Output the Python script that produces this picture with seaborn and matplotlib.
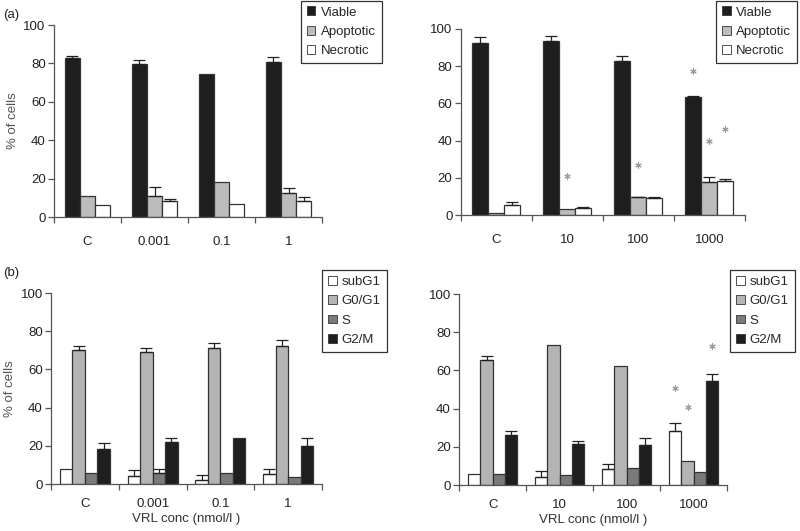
import numpy as np
import pandas as pd
import matplotlib.pyplot as plt
import seaborn as sns
from matplotlib.patches import Patch

# --- datos ---
conc_izq = ["C", "0.001", "0.1", "1"]
conc_der = ["C", "10", "100", "1000"]

estados = ["Viable", "Apoptotic", "Necrotic"]
fases = ["subG1", "G0/G1", "S", "G2/M"]

# (a) izquierda: viabilidad
viable_izq = [83, 79.5, 74.7, 80.7]
viable_izq_err = [1, 2.5, 0, 2.5]
apopt_izq = [11, 11, 18, 12.7]
apopt_izq_err = [0, 4.8, 0, 2.2]
necro_izq = [6, 8.3, 7, 8.5]
necro_izq_err = [0, 1, 0, 2]

# (a) derecha
viable_der = [92.3, 93.5, 82.8, 63.4]
viable_der_err = [3.4, 3, 2.9, 0.4]
apopt_der = [1.3, 3, 9.5, 17.6]
apopt_der_err = [0, 0, 0.4, 3]
necro_der = [5.4, 3.6, 9, 18.5]
necro_der_err = [1.4, 0.5, 0.9, 1]

# (b) izquierda: ciclo celular
subg1_izq = [7.9, 4.2, 2.3, 5.4]
subg1_izq_err = [0, 3, 2.4, 2.5]
g0g1_izq = [70.2, 68.9, 71.4, 72.1]
g0g1_izq_err = [2.2, 2.1, 2.6, 3.1]
s_izq = [5.6, 5.6, 5.6, 3.5]
s_izq_err = [0, 2.3, 0, 0]
g2m_izq = [18.3, 22.2, 23.9, 20.1]
g2m_izq_err = [3.3, 2.1, 0, 3.8]

# (b) derecha
subg1_der = [5.6, 4.2, 8.2, 28.3]
subg1_der_err = [0, 3.1, 2.6, 4]
g0g1_der = [65.6, 73.3, 62.1, 12.4]
g0g1_der_err = [2.1, 0, 0, 0]
s_der = [5.6, 5.1, 8.9, 7]
s_der_err = [0, 0, 0, 0]
g2m_der = [26.2, 21.7, 21.2, 54.2]
g2m_der_err = [1.9, 1.4, 3.6, 3.8]

# asteriscos: (grupo, serie, altura)
estrellas_a = [("10", "Apoptotic", 21), ("100", "Apoptotic", 27),
               ("1000", "Viable", 77.5), ("1000", "Apoptotic", 40),
               ("1000", "Necrotic", 46)]
estrellas_b = [("1000", "subG1", 51), ("1000", "G0/G1", 40.6),
               ("1000", "G2/M", 73)]

colores_a = ["#1e1e1e", "#bcbcbc", "#ffffff"]
colores_b = ["#ffffff", "#b4b4b4", "#7a7a7a", "#1e1e1e"]

sns.set_style("ticks")
plt.rcParams["font.family"] = ["Liberation Sans", "DejaVu Sans"]
plt.rcParams["font.size"] = 9


def tabla(grupos, series, valores, errores):
    filas = []
    for serie, vals, errs in zip(series, valores, errores):
        for g, v, e in zip(grupos, vals, errs):
            filas.append({"conc": g, "serie": serie, "valor": v, "err": e})
    return pd.DataFrame(filas)


def panel(ax, df, grupos, series, colores, ancho, cap, pad_x, estrellas=()):
    sns.barplot(data=df, x="conc", y="valor", hue="serie", order=grupos,
                hue_order=series, palette=colores, width=ancho, gap=0,
                edgecolor="#333333", linewidth=0.9, errorbar=None,
                legend=False, ax=ax, saturation=1)
    centros = {}
    for serie, cont in zip(series, ax.containers):
        sub = df[df["serie"] == serie].set_index("conc").loc[grupos]
        xs = np.array([b.get_x() + b.get_width() / 2 for b in cont])
        for g, x in zip(grupos, xs):
            centros[(g, serie)] = x
        m = sub["err"].values > 0
        if m.any():
            ax.errorbar(xs[m], sub["valor"].values[m],
                        yerr=[np.zeros(m.sum()), sub["err"].values[m]],
                        fmt="none", ecolor="#222222", elinewidth=0.9,
                        capsize=cap, capthick=0.9)
    for g, serie, h in estrellas:
        ax.scatter([centros[(g, serie)]], [h], marker=(6, 2, 0), s=15,
                   color="#9a9a9a", linewidths=0.8, zorder=5)
    ax.set_xlim(-0.5, len(grupos) - 0.5)
    ax.set_ylim(0, 100)
    ax.set_yticks(range(0, 101, 20))
    ax.set_xticks(range(len(grupos)))
    ax.set_xticklabels(grupos)
    ax.set_xticks(np.arange(-0.5, len(grupos), 1), minor=True)
    ax.tick_params(axis="x", which="major", length=0, pad=pad_x,
                   labelsize=9.5, labelcolor="#222222")
    ax.tick_params(axis="x", which="minor", length=4, width=0.9,
                   color="#555555", direction="out")
    ax.tick_params(axis="y", length=4, width=0.9, color="#555555",
                   labelsize=9.5, labelcolor="#222222", pad=2)
    ax.set_xlabel("")
    ax.set_ylabel("")
    sns.despine(ax=ax)
    for sp in ["left", "bottom"]:
        ax.spines[sp].set_color("#555555")
        ax.spines[sp].set_linewidth(0.9)


fig = plt.figure(figsize=(8, 5.31), dpi=100)

ax1 = fig.add_axes([0.0675, 0.5913, 0.335, 0.3616])
ax2 = fig.add_axes([0.576, 0.5951, 0.355, 0.3503])
ax3 = fig.add_axes([0.0638, 0.0885, 0.3387, 0.3597])
ax4 = fig.add_axes([0.574, 0.0866, 0.335, 0.3597])

df1 = tabla(conc_izq, estados, [viable_izq, apopt_izq, necro_izq],
            [viable_izq_err, apopt_izq_err, necro_izq_err])
df2 = tabla(conc_der, estados, [viable_der, apopt_der, necro_der],
            [viable_der_err, apopt_der_err, necro_der_err])
df3 = tabla(conc_izq, fases, [subg1_izq, g0g1_izq, s_izq, g2m_izq],
            [subg1_izq_err, g0g1_izq_err, s_izq_err, g2m_izq_err])
df4 = tabla(conc_der, fases, [subg1_der, g0g1_der, s_der, g2m_der],
            [subg1_der_err, g0g1_der_err, s_der_err, g2m_der_err])

panel(ax1, df1, conc_izq, estados, colores_a, 0.68, 4.5, 14)
panel(ax2, df2, conc_der, estados, colores_a, 0.68, 4.5, 14, estrellas_a)
panel(ax3, df3, conc_izq, fases, colores_b, 0.74, 4, 10)
panel(ax4, df4, conc_der, fases, colores_b, 0.74, 4, 10, estrellas_b)

for ax in (ax1, ax3):
    ax.set_ylabel("% of cells", fontsize=9.5, color="#555555", labelpad=3)
for ax in (ax3, ax4):
    ax.set_xlabel("VRL conc (nmol/l )", fontsize=9.5, color="#333333",
                  labelpad=2)

fig.text(0.004, 0.972, "(a)", fontsize=9.5, color="#222222", va="center")
fig.text(0.004, 0.486, "(b)", fontsize=9.5, color="#222222", va="center")


def leyenda(series, colores, ancla):
    handles = [Patch(facecolor=c, edgecolor="#333333", linewidth=0.6)
               for c in colores]
    leg = fig.legend(handles, series, loc="upper left", bbox_to_anchor=ancla,
                     frameon=True, fancybox=False, edgecolor="#333333",
                     fontsize=9.5, handlelength=0.65, handleheight=0.65,
                     handletextpad=0.4, labelspacing=0.55, borderpad=0.45,
                     borderaxespad=0)
    leg.get_frame().set_linewidth(0.9)
    leg.get_frame().set_alpha(1)


leyenda(estados, colores_a, (0.376, 0.999))
leyenda(estados, colores_a, (0.895, 0.999))
leyenda(fases, colores_b, (0.4025, 0.4915))
leyenda(fases, colores_b, (0.9125, 0.4915))

fig.savefig("out.png", dpi=100)
